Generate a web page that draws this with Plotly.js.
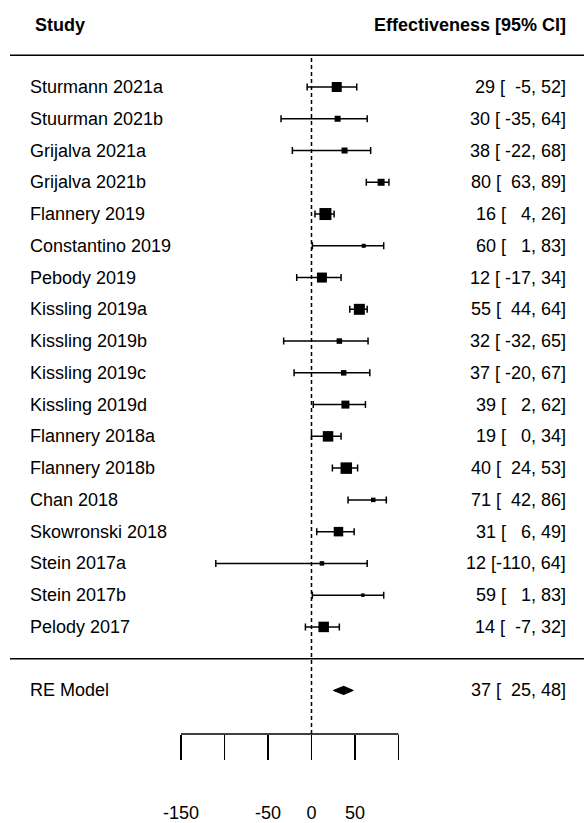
<!DOCTYPE html>
<html>
<head>
<meta charset="utf-8">
<script src="https://cdn.plot.ly/plotly-3.0.1.min.js"></script>
<style>html,body{margin:0;padding:0;background:#fff;}#chart{width:584px;height:823px;}</style>
</head>
<body>
<div id="chart"></div>
<script>
// ---- data ----
const studies = ["Sturmann 2021a","Stuurman 2021b","Grijalva 2021a","Grijalva 2021b","Flannery 2019",
  "Constantino 2019","Pebody 2019","Kissling 2019a","Kissling 2019b","Kissling 2019c","Kissling 2019d",
  "Flannery 2018a","Flannery 2018b","Chan 2018","Skowronski 2018","Stein 2017a","Stein 2017b","Pelody 2017"];
const estimates = [29,30,38,80,16,60,12,55,32,37,39,19,40,71,31,12,59,14];
const lowerCI  = [-5,-35,-22,63,4,1,-17,44,-32,-20,2,0,24,42,6,-110,1,-7];
const upperCI  = [52,64,68,89,26,83,34,64,65,67,62,34,53,86,49,64,83,32];
const weights  = [10,6,6,7,12,4,10,11,5.5,5.5,8,10.5,11.5,4.5,9.5,4.5,3.5,10.5];
const summaryLabel = "RE Model";
const summaryEst = 37, summaryLower = 25, summaryUpper = 48;
const tickVals = [-150,-100,-50,0,50,100];
const tickLabels = ["-150","","-50","0","50",""];
const headerLeft = "Study";
const headerRight = "Effectiveness [95% CI]";

// ---- layout helpers ----
const k = studies.length;
const rows = studies.map((_, i) => k - i);
const summaryRow = -1;
const W = 584, H = 823, bottomMargin = 89;
const plotH = H - bottomMargin;
const rowPx = 31.76, topRowPx = 87;
const yTop = k + topRowPx / rowPx;
const yBot = k - (plotH - topRowPx) / rowPx;
const zeroPx = 311.5, pxPerUnit = 0.87;
const xRange = [-zeroPx / pxPerUnit, (W - zeroPx) / pxPerUnit];

const NB = "\u00A0";
const pad = (v, w) => String(v).padStart(w, NB);
const wLo = Math.max(...lowerCI.map(v => String(v).length), String(summaryLower).length);
const wHi = Math.max(...upperCI.map(v => String(v).length), String(summaryUpper).length);
const wEst = Math.max(...estimates.map(v => String(v).length), String(summaryEst).length);
const ciText = (e, l, u) => `${pad(e, wEst)} [${pad(l, wLo)}, ${pad(u, wHi)}]`;

const FONT = "Liberation Sans, Arial, sans-serif";
const fs = 18;
const leftX = 27.5 / W, headerLeftX = 33 / W, rightX = 568 / W;

const traces = [
  {
    type: "scatter", mode: "markers",
    x: estimates, y: rows,
    marker: { symbol: "square", size: weights, color: "#000", opacity: 1, line: { width: 0 } },
    error_x: {
      type: "data", symmetric: false,
      array: upperCI.map((u, i) => u - estimates[i]),
      arrayminus: lowerCI.map((l, i) => estimates[i] - l),
      color: "#000", thickness: 1.5, width: 3.5
    },
    hoverinfo: "skip", showlegend: false
  },
  {
    type: "scatter", mode: "lines",
    x: [summaryLower, summaryEst, summaryUpper, summaryEst, summaryLower],
    y: [summaryRow, summaryRow + 0.13, summaryRow, summaryRow - 0.13, summaryRow],
    fill: "toself", fillcolor: "#000",
    line: { color: "#000", width: 1 },
    hoverinfo: "skip", showlegend: false
  }
];

const txt = (x, y, text, anchor) => ({ xref: "paper", yref: "y", x: x, y: y, text: text, showarrow: false,
  xanchor: anchor, yanchor: "middle", font: { family: FONT, size: fs, color: "#000" } });

const annotations = [];
studies.forEach((s, i) => {
  annotations.push(txt(leftX, rows[i], s, "left"));
  annotations.push(txt(rightX, rows[i], ciText(estimates[i], lowerCI[i], upperCI[i]), "right"));
});
annotations.push(txt(leftX, summaryRow, summaryLabel, "left"));
annotations.push(txt(rightX, summaryRow, ciText(summaryEst, summaryLower, summaryUpper), "right"));
annotations.push(txt(headerLeftX, k + 1.95, "<b>" + headerLeft + "</b>", "left"));
annotations.push(txt(rightX, k + 1.95, "<b>" + headerRight + "</b>", "right"));

const shapes = [
  { type: "line", xref: "paper", yref: "y", x0: 10 / W, x1: 1, y0: k + 1, y1: k + 1, line: { color: "#000", width: 1.5 } },
  { type: "line", xref: "paper", yref: "y", x0: 10 / W, x1: 1, y0: 0, y1: 0, line: { color: "#000", width: 1.5 } },
  { type: "line", xref: "x", yref: "y", x0: 0, x1: 0, y0: yBot, y1: k + 1, line: { color: "#000", width: 1.5, dash: "4px,3px" } },
  { type: "line", xref: "x", yref: "paper", x0: tickVals[0], x1: tickVals[tickVals.length - 1], y0: 0, y1: 0, line: { color: "#000", width: 1.5 } }
];

const layout = {
  width: W, height: H,
  margin: { l: 0, r: 0, t: 0, b: bottomMargin, pad: 0 },
  paper_bgcolor: "#fff", plot_bgcolor: "#fff",
  showlegend: false,
  xaxis: {
    range: xRange, showgrid: false, zeroline: false, showline: false,
    tickmode: "array", tickvals: tickVals, ticktext: tickLabels,
    ticks: "outside", ticklen: 25, tickwidth: 1.5, tickcolor: "#000",
    ticklabelstandoff: 37,
    tickfont: { family: FONT, size: fs, color: "#000" }
  },
  yaxis: { range: [yBot, yTop], visible: false, showgrid: false, zeroline: false },
  annotations: annotations,
  shapes: shapes
};

Plotly.newPlot("chart", traces, layout, { staticPlot: true, displayModeBar: false });
</script>
</body>
</html>
